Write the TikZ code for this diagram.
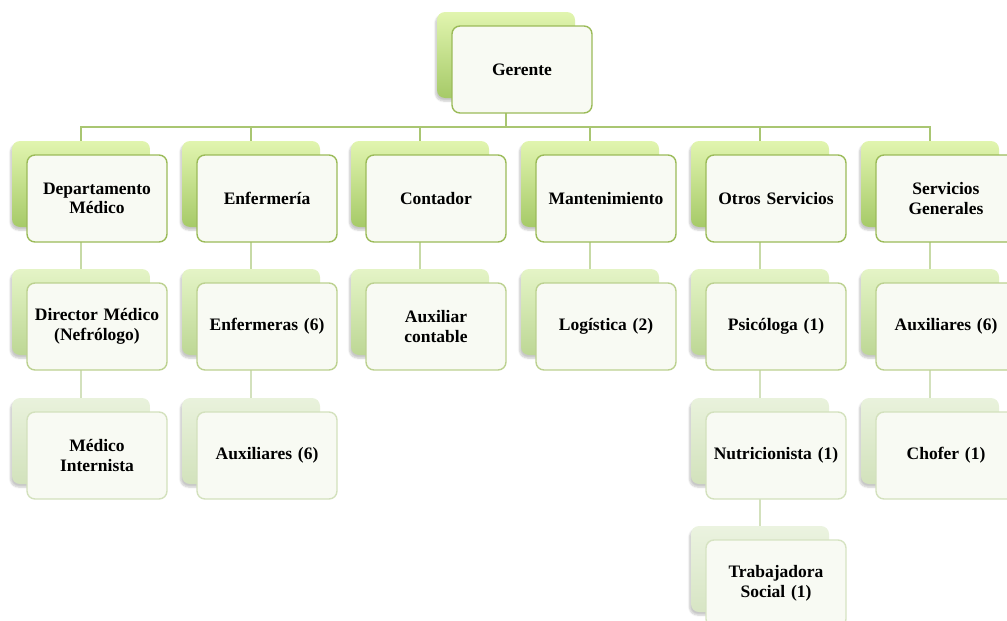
\documentclass[tikz,border=0pt]{standalone}
\usepackage{fontspec}
\setmainfont{Liberation Serif}
\usetikzlibrary{shadows.blur}
\pgfdeclarelayer{bg}
\pgfsetlayers{bg,main}
\definecolor{bAa}{HTML}{E1F5AF}\definecolor{bAb}{HTML}{A6CA68}\definecolor{fA}{HTML}{9BBB59}\definecolor{lA}{HTML}{A9C672}
\definecolor{bBa}{HTML}{E4F4C6}\definecolor{bBb}{HTML}{BDD795}\definecolor{fB}{HTML}{BCD190}\definecolor{lB}{HTML}{C7DAA6}
\definecolor{bCa}{HTML}{E9F2DC}\definecolor{bCb}{HTML}{D2E2BC}\definecolor{fC}{HTML}{D3E1BD}\definecolor{lC}{HTML}{D3E1BD}
\definecolor{bDa}{HTML}{EBF3E0}\definecolor{bDb}{HTML}{D7E5C4}\definecolor{fD}{HTML}{D6E3C2}
\definecolor{frontfill}{HTML}{F8FAF3}
\tikzset{
  backbox/.style={rounded corners=8pt, minimum width=138pt, minimum height=86pt, inner sep=0pt,
    blur shadow={shadow xshift=-1.5pt, shadow yshift=-3pt, shadow blur steps=6, shadow opacity=22}},
  backA/.style={backbox, top color=bAa, bottom color=bAb},
  backB/.style={backbox, top color=bBa, bottom color=bBb},
  backC/.style={backbox, top color=bCa, bottom color=bCb},
  backD/.style={backbox, top color=bDa, bottom color=bDb},
  frontbox/.style={rounded corners=8pt, minimum width=140pt, minimum height=87pt, inner sep=2pt,
    line width=1.4pt, fill=frontfill, text width=134pt, align=center,
    font=\fontsize{17.5}{19.5}\selectfont\bfseries},
  frontA/.style={frontbox, draw=fA},
  frontB/.style={frontbox, draw=fB},
  frontC/.style={frontbox, draw=fC},
  frontD/.style={frontbox, draw=fD},
  connA/.style={draw=lA, line width=2pt},
  connB/.style={draw=lB, line width=1.6pt},
  connC/.style={draw=lC, line width=1.6pt},
}
% #1 name, #2 back centre x, #3 back top y, #4 level letter, #5 text
\newcommand\orgbox[5]{%
  \node[back#4] (#1-b) at ({#2},{#3+43}) {};
  \node[front#4] (#1) at ({#2+16},{#3+57.5}) {#5};
}
\begin{document}
\begin{tikzpicture}[x=1pt,y=-1pt]
\useasboundingbox (0,0) rectangle (1007,621);
% level 0
\orgbox{ger}{506}{12}{A}{Gerente}
% level 1
\orgbox{dm}{81}{141}{A}{Departamento\\Médico}
\orgbox{enf}{251}{141}{A}{Enfermería}
\orgbox{cont}{420}{141}{A}{Contador}
\orgbox{mant}{590}{141}{A}{Mantenimiento}
\orgbox{otros}{760}{141}{A}{Otros Servicios}
\orgbox{sg}{930}{141}{A}{Servicios\\Generales}
% level 2
\orgbox{dir}{81}{269}{B}{Director Médico\\(Nefrólogo)}
\orgbox{enfs}{251}{269}{B}{Enfermeras (6)}
\orgbox{auxc}{420}{269}{B}{Auxiliar\\contable}
\orgbox{log}{590}{269}{B}{Logística (2)}
\orgbox{psi}{760}{269}{B}{Psicóloga (1)}
\orgbox{auxs}{930}{269}{B}{Auxiliares (6)}
% level 3
\orgbox{mi}{81}{398}{C}{Médico\\Internista}
\orgbox{auxe}{251}{398}{C}{Auxiliares (6)}
\orgbox{nut}{760}{398}{C}{Nutricionista (1)}
\orgbox{chof}{930}{398}{C}{Chofer (1)}
% level 4
\orgbox{trab}{760}{526}{D}{Trabajadora\\Social (1)}
\coordinate (bus) at (506,127);
\begin{pgfonlayer}{bg}
  \draw[connA] (ger-b.south) -- (bus);
  \foreach \c in {dm,enf,cont,mant,otros,sg}
    \draw[connA] (\c-b.north) |- (bus);
  \draw[connB] (dm-b.south) -- (dir-b.north);
  \draw[connB] (enf-b.south) -- (enfs-b.north);
  \draw[connB] (cont-b.south) -- (auxc-b.north);
  \draw[connB] (mant-b.south) -- (log-b.north);
  \draw[connB] (otros-b.south) -- (psi-b.north);
  \draw[connB] (sg-b.south) -- (auxs-b.north);
  \draw[connC] (dir-b.south) -- (mi-b.north);
  \draw[connC] (enfs-b.south) -- (auxe-b.north);
  \draw[connC] (psi-b.south) -- (nut-b.north);
  \draw[connC] (auxs-b.south) -- (chof-b.north);
  \draw[connC] (nut-b.south) -- (trab-b.north);
\end{pgfonlayer}
\end{tikzpicture}
\end{document}
